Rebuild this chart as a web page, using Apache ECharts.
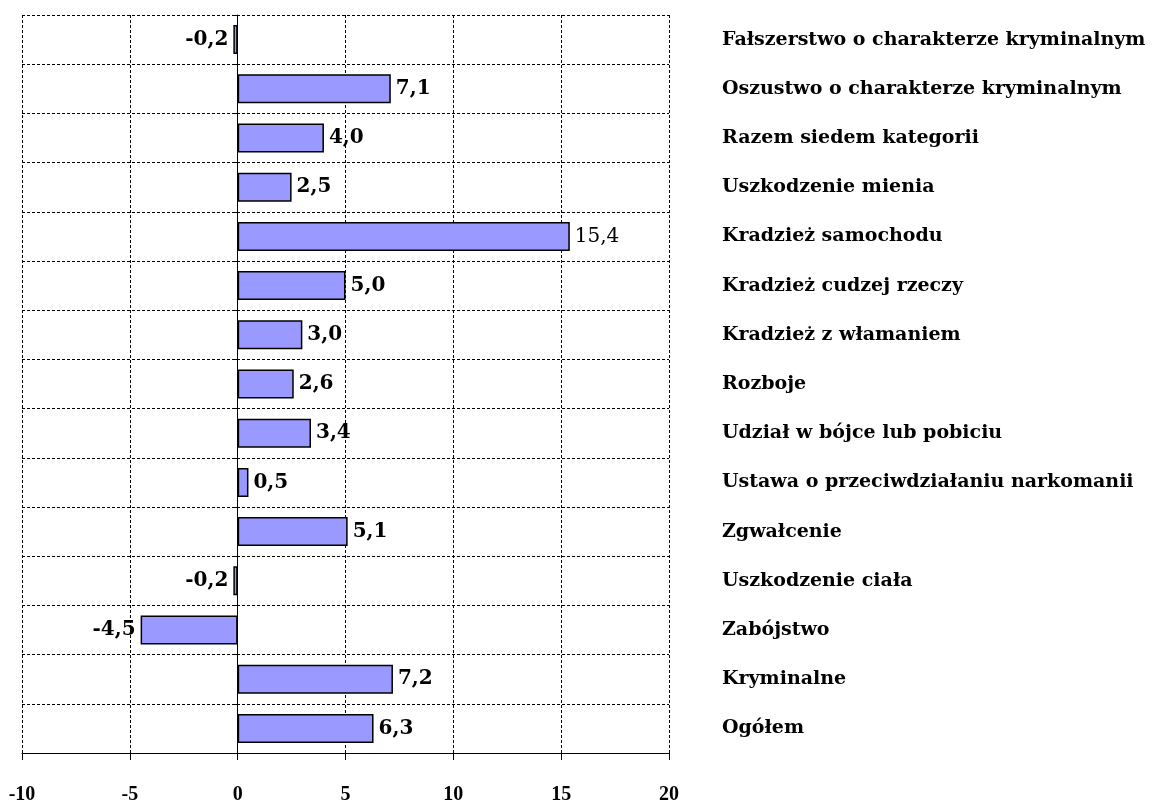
<!DOCTYPE html>
<html><head><meta charset="utf-8">
<script src="https://cdn.jsdelivr.net/npm/echarts@6/dist/echarts.min.js"></script>
<style>html,body{margin:0;padding:0;background:#fff}#c{width:1155px;height:805px}</style>
</head><body><div id="c"></div>
<script>
const categories = ['Ogółem','Kryminalne','Zabójstwo','Uszkodzenie ciała','Zgwałcenie','Ustawa o przeciwdziałaniu narkomanii','Udział w bójce lub pobiciu','Rozboje','Kradzież z włamaniem','Kradzież cudzej rzeczy','Kradzież samochodu','Uszkodzenie mienia','Razem siedem kategorii','Oszustwo o charakterze kryminalnym','Fałszerstwo o charakterze kryminalnym'];
const values = [6.3, 7.2, -4.5, -0.2, 5.1, 0.5, 3.4, 2.6, 3.0, 5.0, 15.4, 2.5, 4.0, 7.1, -0.2];
const xTicks = [-10, -5, 0, 5, 10, 15, 20];

const SERIF = '"Liberation Serif", serif';
const DV = '"DejaVu Serif", serif';
const chart = echarts.init(document.getElementById('c'));
const dashed = {color:'#000', type:[3,2], width:1};
chart.setOption({
  animation:false,
  grid:{left:22, right:486, top:15, bottom:50, containLabel:false},
  xAxis:{type:'value', min:xTicks[0], max:xTicks[xTicks.length-1], interval:5,
    axisLine:{show:true, onZero:false, lineStyle:{color:'#000', width:1}},
    axisTick:{show:true, length:7, lineStyle:{color:'#000'}},
    splitLine:{show:true, lineStyle:dashed},
    axisLabel:{color:'#000', fontFamily:SERIF, fontWeight:'bold', fontSize:20, margin:32}},
  yAxis:[
    {type:'category', data:categories, position:'left',
      axisLine:{show:true, onZero:true, lineStyle:{color:'#000', width:1}},
      axisTick:{show:true, length:5, lineStyle:{color:'#000'}},
      axisLabel:{show:false},
      splitLine:{show:true, lineStyle:dashed}},
    {type:'category', data:categories, position:'right',
      axisLine:{show:false}, axisTick:{show:false}, splitLine:{show:false},
      axisLabel:{color:'#000', fontFamily:DV, fontWeight:'bold', fontSize:19, margin:53, align:'left'}}
  ],
  series:[{type:'bar', yAxisIndex:0, barCategoryGap:'41%',
    itemStyle:{color:'#9999FF', borderColor:'#000', borderWidth:1.5},
    data: values.map(v => ({value:v, label:{position: v<0 ? 'left' : 'right', fontWeight: v>15 ? 'normal' : 'bold'}})),
    label:{show:true, color:'#000', fontFamily:DV, fontWeight:'bold', fontSize:20, distance:5,
      formatter: p => p.value.toFixed(1).replace('.', ',')}
  }]
});
</script></body></html>
